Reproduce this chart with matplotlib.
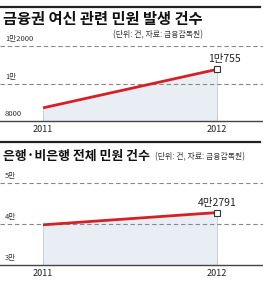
import matplotlib.pyplot as plt
from matplotlib.lines import Line2D

plt.rcParams['font.family'] = ['Noto Sans CJK KR', 'DejaVu Sans']

years = [2011, 2012]
loan_complaints = [8700, 10755]
total_complaints = [39800, 42791]
top_ticks = [8000, 10000, 12000]
top_tick_labels = ['8000', '1만', '1만2000']
bot_ticks = [30000, 40000, 50000]
bot_tick_labels = ['3만', '4만', '5만']

W, H = 263, 282
fig = plt.figure(figsize=(W / 100, H / 100), dpi=100)

def fx(px):
    return px / W

def fy(py):
    return 1 - py / H

red = '#d42027'
fill = '#e9eef5'
x0 = 2011 - 43 / 174
x1 = 2011 + (W - 43) / 174

def panel(top, bottom, vals, ticks, labels, end_label, label_dx, title, tsize):
    ax = fig.add_axes([0, fy(bottom), 1, (bottom - top) / H])
    ax.set_xlim(x0, x1)
    ax.set_ylim(ticks[0], ticks[-1])
    ax.fill_between(years, vals, ticks[0], color=fill, lw=0)
    ax.vlines(years, ticks[0], vals, color='#c8ccd2', lw=0.6)
    for t in ticks[1:]:
        ax.axhline(t, color='#888888', lw=0.8, ls=(0, (4, 2.5)))
    ax.plot(years, vals, color=red, lw=2, solid_capstyle='butt')
    ax.plot(years[-1], vals[-1], 's', ms=4, mfc='white', mec='#333333', mew=0.8)
    ax.annotate(end_label, (years[-1], vals[-1]), xytext=(label_dx, 3.5),
                textcoords='offset points', ha='center', va='bottom',
                fontsize=7.5, color='#222222')
    for t, lab in zip(ticks, labels):
        ax.annotate(lab, (0, t), xycoords=('axes fraction', 'data'),
                    xytext=(3.6, 2), textcoords='offset points',
                    fontsize=5.5, color='#333333', va='bottom', ha='left')
    for s in ['top', 'left', 'right']:
        ax.spines[s].set_visible(False)
    ax.spines['bottom'].set_color('#444444')
    ax.spines['bottom'].set_linewidth(1)
    ax.set_xticks(years)
    ax.set_xticklabels([str(y) for y in years], fontsize=6.5, color='#222222')
    ax.tick_params(axis='x', direction='in', length=3, width=0.6, color='#888888', pad=3)
    ax.set_yticks([])
    fig.text(fx(3), fy(top - 27), title, fontsize=tsize, fontweight='bold',
             ha='left', va='center', color='#111111')
    return ax

# top panel
fig.add_artist(Line2D([0, fx(260)], [fy(7), fy(7)], color='#222222', lw=1.6))
panel(46, 121, loan_complaints, top_ticks, top_tick_labels, '1만755', 5,
      '금융권 여신 관련 민원 발생 건수', 11)
fig.text(fx(113), fy(35), '(단위: 건, 자료: 금융감독원)', fontsize=5.7,
         color='#333333', ha='left', va='center')

# bottom panel
fig.add_artist(Line2D([0, fx(260)], [fy(142), fy(142)], color='#222222', lw=1.6))
panel(183, 265, total_complaints, bot_ticks, bot_tick_labels, '4만2791', 0,
      '은행·비은행 전체 민원 건수', 9.3)
fig.text(fx(155), fy(157), '(단위: 건, 자료: 금융감독원)', fontsize=5.7,
         color='#333333', ha='left', va='center')

plt.savefig('out.png', dpi=100)
